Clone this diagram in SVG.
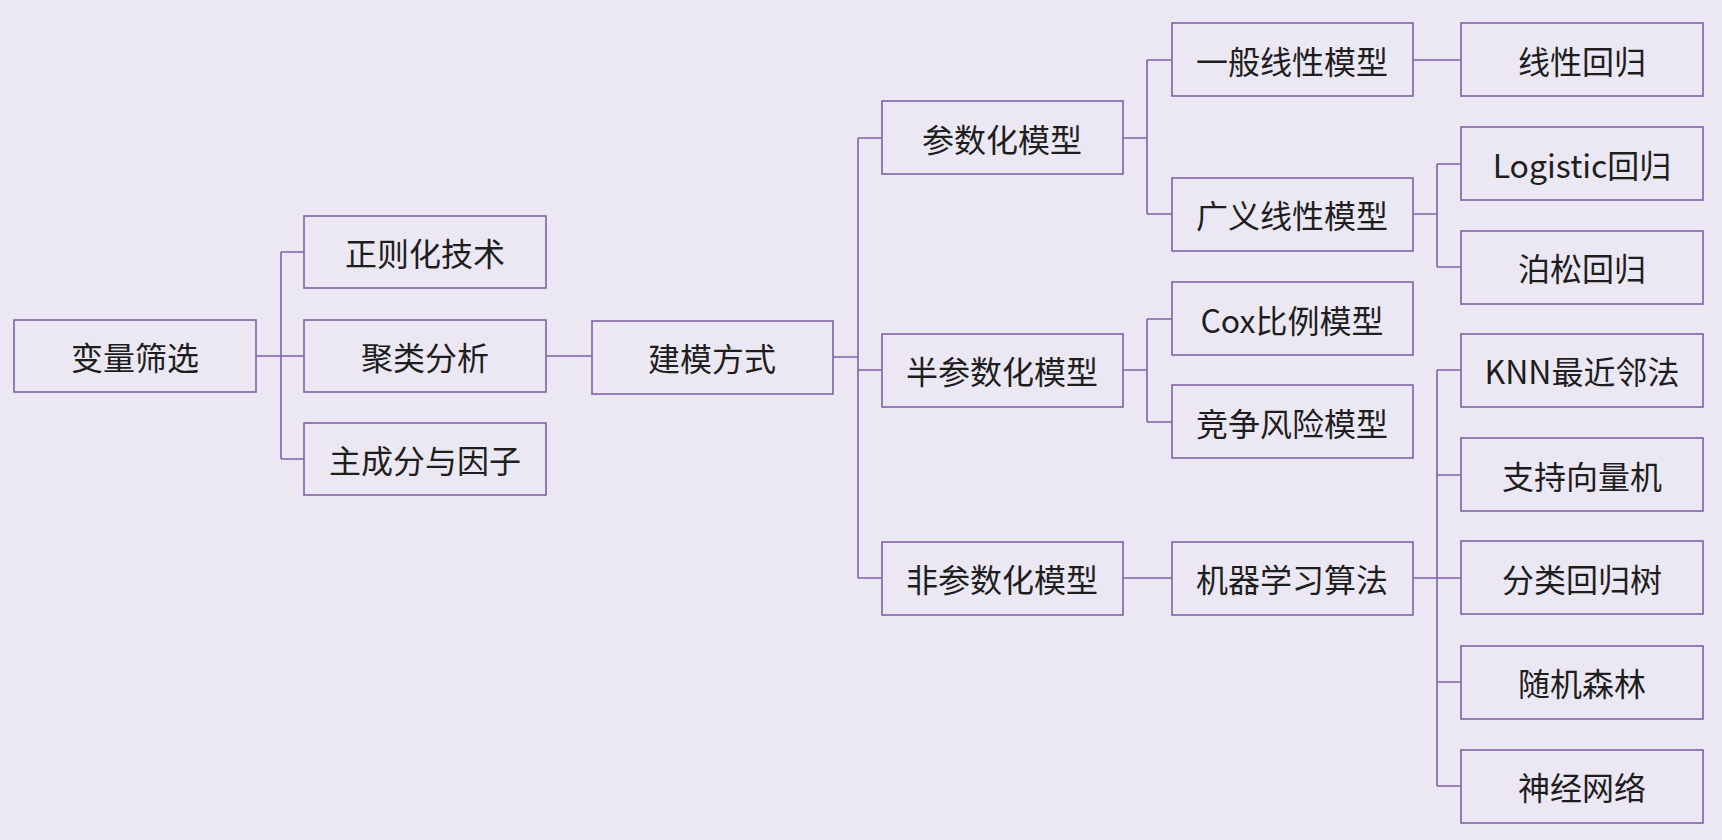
<svg xmlns="http://www.w3.org/2000/svg" width="1722" height="840" viewBox="0 0 1722 840">
<style>
.n rect{fill:#ece8f3;stroke:#7d62a8;stroke-width:1.6}
.n text{font-family:"Noto Sans CJK SC","Noto Sans",sans-serif;font-size:32px;fill:#1e1e1e;text-anchor:middle;dominant-baseline:central}
.c path{fill:none;stroke:#7d62a8;stroke-width:1.6}
</style>
<rect width="1722" height="840" fill="#ece8f3"/>
<g class="c">
<path d="M256 356H281M281 252V459M281 252H304M281 459H304M256 356H304"/>
<path d="M546 356H592"/>
<path d="M833 357H858M858 138V578M858 138H882M858 370H882M858 578H882"/>
<path d="M1123 138H1147M1147 60V214M1147 60H1172M1147 214H1172"/>
<path d="M1123 370H1147M1147 319V422M1147 319H1172M1147 422H1172"/>
<path d="M1123 578H1172"/>
<path d="M1413 60H1461"/>
<path d="M1413 214H1437M1437 164V267M1437 164H1461M1437 267H1461"/>
<path d="M1413 578H1437M1437 370V786M1437 370H1461M1437 475H1461M1437 578H1461M1437 682H1461M1437 786H1461"/>
</g>
<g id="n1" class="n"><rect x="14" y="320" width="242" height="72"/><text x="135" y="356">变量筛选</text></g>
<g id="n2" class="n"><rect x="304" y="216" width="242" height="72"/><text x="425" y="252">正则化技术</text></g>
<g id="n3" class="n"><rect x="304" y="320" width="242" height="72"/><text x="425" y="356">聚类分析</text></g>
<g id="n4" class="n"><rect x="304" y="423" width="242" height="72"/><text x="425" y="459">主成分与因子</text></g>
<g id="n5" class="n"><rect x="592" y="321" width="241" height="73"/><text x="712" y="357">建模方式</text></g>
<g id="n6" class="n"><rect x="882" y="101" width="241" height="73"/><text x="1002" y="138">参数化模型</text></g>
<g id="n7" class="n"><rect x="882" y="334" width="241" height="73"/><text x="1002" y="370">半参数化模型</text></g>
<g id="n8" class="n"><rect x="882" y="542" width="241" height="73"/><text x="1002" y="578">非参数化模型</text></g>
<g id="n9" class="n"><rect x="1172" y="23" width="241" height="73"/><text x="1292" y="60">一般线性模型</text></g>
<g id="n10" class="n"><rect x="1172" y="178" width="241" height="73"/><text x="1292" y="214">广义线性模型</text></g>
<g id="n11" class="n"><rect x="1172" y="282" width="241" height="73"/><text x="1292" y="319">Cox比例模型</text></g>
<g id="n12" class="n"><rect x="1172" y="385" width="241" height="73"/><text x="1292" y="422">竞争风险模型</text></g>
<g id="n13" class="n"><rect x="1172" y="542" width="241" height="73"/><text x="1292" y="578">机器学习算法</text></g>
<g id="n14" class="n"><rect x="1461" y="23" width="242" height="73"/><text x="1582" y="60">线性回归</text></g>
<g id="n15" class="n"><rect x="1461" y="127" width="242" height="73"/><text x="1582" y="164">Logistic回归</text></g>
<g id="n16" class="n"><rect x="1461" y="231" width="242" height="73"/><text x="1582" y="267">泊松回归</text></g>
<g id="n17" class="n"><rect x="1461" y="334" width="242" height="73"/><text x="1582" y="370">KNN最近邻法</text></g>
<g id="n18" class="n"><rect x="1461" y="438" width="242" height="73"/><text x="1582" y="475">支持向量机</text></g>
<g id="n19" class="n"><rect x="1461" y="541" width="242" height="73"/><text x="1582" y="578">分类回归树</text></g>
<g id="n20" class="n"><rect x="1461" y="646" width="242" height="73"/><text x="1582" y="682">随机森林</text></g>
<g id="n21" class="n"><rect x="1461" y="750" width="242" height="73"/><text x="1582" y="786">神经网络</text></g>
</svg>
